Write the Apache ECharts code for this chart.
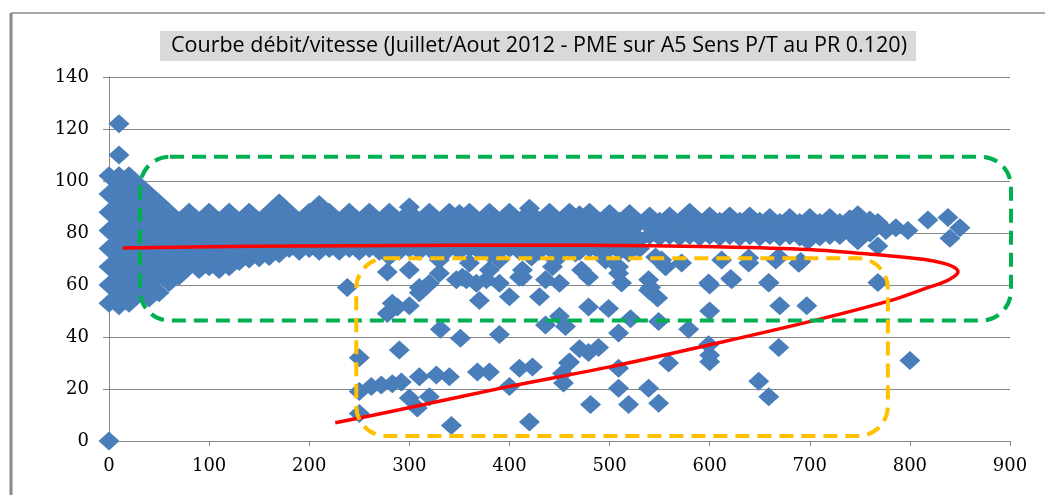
<!DOCTYPE html>
<html>
<head>
<meta charset="utf-8">
<script src="https://cdn.jsdelivr.net/npm/echarts@6/dist/echarts.min.js"></script>
<style>
  html, body { margin: 0; padding: 0; background: #ffffff; }
  #chart { width: 1045px; height: 495px; }
</style>
</head>
<body>
<div id="chart"></div>
<script>
// Flow (veh/h) vs speed (km/h) observations, grouped by flow column: [flow, [speeds...]]
const bandColumns = [
  [0, [53, 60, 67, 74, 81, 88, 95, 102]],
  [10, [52, 56.5, 63.5, 70.5, 77.5, 84.5, 91.5, 98.5, 102]],
  [20, [53, 60, 67, 74, 81, 88, 95, 102]],
  [30, [56.5, 63.5, 70.5, 77.5, 84.5, 91.5, 98.5]],
  [40, [55, 60, 67, 74, 81, 88, 95]],
  [50, [57, 63.5, 70.5, 77.5, 84.5, 91.5]],
  [60, [61, 67, 74, 81, 88]],
  [70, [63.5, 70.5, 77.5, 84.5]],
  [80, [67, 74, 81, 88]],
  [90, [66, 70.5, 77.5, 84.5]],
  [100, [67, 74, 81, 88]],
  [110, [66, 70.5, 77.5, 84.5]],
  [120, [67, 74, 81, 88]],
  [130, [69, 70.5, 77.5, 84.5]],
  [140, [70, 74, 81, 88]],
  [150, [70.5, 77.5, 84.5]],
  [160, [71, 74, 81, 88]],
  [170, [72, 77.5, 84.5, 91.5]],
  [180, [74, 81, 88]],
  [190, [73, 77.5, 84.5]],
  [200, [74, 81, 88]],
  [210, [73, 77.5, 84.5, 91]],
  [220, [74, 81, 88]],
  [230, [73, 77.5, 84.5]],
  [240, [74, 81, 88]],
  [250, [73, 77.5, 84.5]],
  [260, [74, 81, 88]],
  [270, [73, 77.5, 84.5]],
  [280, [71, 74, 81, 88]],
  [290, [73, 77.5, 84.5]],
  [300, [74, 81, 88, 90]],
  [310, [73, 77.5, 84.5]],
  [320, [74, 81, 88]],
  [330, [70.5, 77.5, 84.5]],
  [340, [74, 81, 88]],
  [350, [73, 77.5, 84.5, 87.5]],
  [360, [74, 81, 88]],
  [370, [73, 77.5, 84.5]],
  [380, [72, 74, 81, 88]],
  [390, [73, 77.5, 84.5]],
  [400, [74, 81, 88]],
  [410, [73, 77.5, 84.5]],
  [420, [74, 81, 88, 89.5]],
  [430, [73, 77.5, 84.5]],
  [440, [74, 81, 88]],
  [450, [72, 77.5, 84.5]],
  [460, [74, 81, 88]],
  [470, [73, 77.5, 84.5, 87]],
  [480, [74, 81, 88]],
  [490, [73, 77.5, 84.5]],
  [500, [74, 81, 87.5]],
  [510, [73, 77.5, 84.5]],
  [520, [74, 81, 87.5]],
  [530, [74, 77.5, 84]],
  [540, [79, 82.5, 86.5]],
  [550, [78.5, 82, 84.5]],
  [560, [79, 82.5, 86.5]],
  [570, [78.5, 82, 84.5]],
  [580, [79, 82.5, 86.5, 88]],
  [590, [78.5, 82, 84.5]],
  [600, [79, 82.5, 86.5]],
  [610, [78.5, 82, 84.5]],
  [620, [79, 82.5, 86.5]],
  [630, [78.5, 82, 84.5]],
  [640, [79, 82.5, 86.5]],
  [650, [78.5, 82, 84.5]],
  [660, [79, 82.5, 86]],
  [670, [78.5, 82, 84]],
  [680, [79, 82.5, 86]],
  [690, [78.5, 82, 84]],
  [700, [79, 82.5, 86]],
  [710, [78.5, 82, 84]],
  [720, [79, 82.5, 86]],
  [730, [79, 82, 84]],
  [740, [80, 83, 85.5]],
  [750, [79.5, 83]],
  [760, [80, 83, 85]]
];

// Isolated observations outside the main free-flow band: [flow, speed]
const scatterPoints = [
  [0, 0], [10, 110], [10, 122],
  [238, 59], [278, 65], [310, 57], [288, 51.5], [278, 49], [300, 52], [283, 53],
  [250, 32], [290, 35], [250, 19], [262, 21], [272, 21.5], [283, 22], [292, 22.7],
  [310, 24.7], [327, 25.4], [340, 24.7], [368, 26.5], [380, 26.5], [410, 28], [423, 28.5],
  [453, 26], [460, 30.4], [400, 21], [300, 16.5], [320, 17], [308, 12.7], [250, 10.6],
  [342, 6], [420, 7.3],
  [331, 43], [351, 39.5], [390, 41], [370, 54], [400, 55.5], [430, 55.5], [450, 48],
  [456, 44], [436, 44.6], [479, 51.5], [499, 51], [509, 41.5], [521, 47], [549, 46],
  [579, 43], [600, 50], [670, 52], [697, 52], [541, 59], [548, 55], [539, 58],
  [600, 60], [621, 62.5], [659, 61], [768, 61], [509, 64.5], [320, 60.6], [330, 64.5],
  [353, 63], [357, 62], [367, 60.7], [390, 60.7], [413, 63], [450, 60.7],
  [489, 36], [479, 34], [470, 35.5], [459, 30], [509, 28], [559, 30], [600, 33],
  [600, 30.5], [599, 37], [669, 36], [649, 23], [659, 17], [509, 20.3], [539, 20.3],
  [481, 14], [519, 14], [549, 14.5], [454, 22.3], [800, 31],
  [300, 65.8], [310, 59], [330, 69.6], [347, 62], [360, 68.5], [377, 62], [380, 65.8],
  [390, 69.6], [413, 65.8], [410, 63], [422, 70.8], [436, 62], [443, 67], [446, 69.6],
  [466, 72.3], [472, 65.8], [479, 63], [496, 69.6], [509, 67], [512, 60.8], [519, 72.3],
  [539, 62], [546, 70.8], [552, 69.6], [556, 67], [572, 68.5], [599, 60.8], [612, 69.6],
  [622, 62], [639, 68.5], [659, 60.8], [666, 69.6], [639, 70.4], [669, 70.8],
  [689, 68.4], [691, 69],
  [698, 77], [748, 77], [768, 75], [748, 87], [768, 84], [776, 81], [786, 82],
  [798, 81], [818, 85], [838, 86], [850, 82], [840, 78]
];

// Fitted flow/speed curve: free-flow branch, then the congested branch back down
const curveFlow  = [14, 100, 190, 300, 400, 540, 606, 706, 771, 815, 835, 845, 848, 845, 835, 815, 782, 706, 600, 500, 400, 290, 226];
const curveSpeed = [74.2, 74.7, 75.0, 75.2, 75.3, 75.1, 74.7, 73.5, 71.5, 69.8, 68.2, 66.6, 65, 63.5, 61.3, 58.6, 54.2, 46.5, 37, 28.5, 21, 12, 7];

// Highlighted regimes (data coordinates: flow range, speed range)
const freeFlowZone  = { flow: [31, 901], speed: [46.3, 109.3] };
const congestedZone = { flow: [247, 778], speed: [1.9, 70.3] };

const titleText = 'Courbe débit/vitesse (Juillet/Aout 2012 - PME sur A5 Sens P/T au PR 0.120)';

const points = [];
bandColumns.forEach(([flow, speeds]) => speeds.forEach(v => points.push([flow, v])));
scatterPoints.forEach(p => points.push(p));
const curve = curveFlow.map((f, i) => [f, curveSpeed[i]]);

const chart = echarts.init(document.getElementById('chart'), null, { renderer: 'canvas' });

const axisGray = '#868686';
const labelFont = { fontFamily: 'DejaVu Serif', fontSize: 18, color: '#000000' };

chart.setOption({
  animation: false,
  backgroundColor: '#ffffff',
  grid: { left: 109, right: 35, top: 77, bottom: 54, containLabel: false },
  xAxis: {
    type: 'value', min: 0, max: 900, interval: 100,
    axisLine: { show: true, onZero: false, lineStyle: { color: axisGray, width: 1 } },
    axisTick: { show: true, inside: false, length: 5, lineStyle: { color: axisGray } },
    axisLabel: Object.assign({ margin: 16 }, labelFont),
    splitLine: { show: false }
  },
  yAxis: {
    type: 'value', min: 0, max: 140, interval: 20,
    axisLine: { show: true, lineStyle: { color: axisGray, width: 1 } },
    axisTick: { show: true, inside: false, length: 6, lineStyle: { color: axisGray } },
    axisLabel: Object.assign({ margin: 20 }, labelFont),
    splitLine: { show: true, lineStyle: { color: axisGray, width: 1 } }
  },
  series: [
    {
      type: 'scatter',
      data: points,
      symbol: 'diamond',
      symbolSize: [21, 19],
      itemStyle: { color: '#4A7EBB', opacity: 1 },
      z: 2
    },
    {
      type: 'line',
      data: curve,
      smooth: 0.35,
      showSymbol: false,
      symbol: 'none',
      lineStyle: { color: '#FF0000', width: 3.5 },
      z: 3
    }
  ]
});

function zoneRect(zone, color) {
  const a = chart.convertToPixel({ gridIndex: 0 }, [zone.flow[0], zone.speed[1]]);
  const b = chart.convertToPixel({ gridIndex: 0 }, [zone.flow[1], zone.speed[0]]);
  return {
    type: 'rect',
    z: 100,
    shape: { x: a[0], y: a[1], width: b[0] - a[0], height: b[1] - a[1], r: 30 },
    style: { fill: 'none', stroke: color, lineWidth: 4, lineDash: [14, 8] }
  };
}

chart.setOption({
  graphic: [
    { type: 'line', z: 50, shape: { x1: 11, y1: 13, x2: 11, y2: 495 }, style: { stroke: '#8a8a8a', lineWidth: 3 } },
    { type: 'line', z: 50, shape: { x1: 11, y1: 13, x2: 1045, y2: 13 }, style: { stroke: '#8a8a8a', lineWidth: 1.5 } },
    { type: 'rect', z: 50, shape: { x: 160, y: 31, width: 756, height: 30 }, style: { fill: '#D9D9D9' } },
    {
      type: 'text', z: 51, x: 539, y: 46,
      style: {
        text: titleText, fill: '#000000', align: 'center', verticalAlign: 'middle',
        font: '21.5px "Open Sans"'
      }
    },
    zoneRect(freeFlowZone, '#00B050'),
    zoneRect(congestedZone, '#FFC000')
  ]
});
</script>
</body>
</html>
